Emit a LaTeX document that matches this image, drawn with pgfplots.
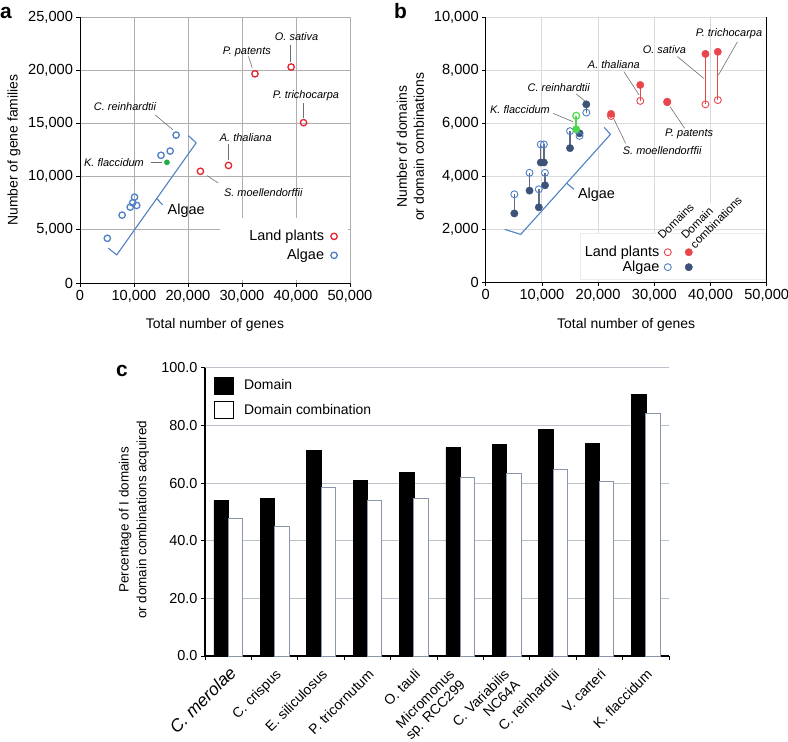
\documentclass[border=0pt]{standalone}
\usepackage{fontspec}
\setmainfont{Liberation Sans}
\usepackage{pgfplots}
\pgfplotsset{compat=1.18}

\definecolor{landred}{HTML}{E3232B}
\definecolor{algblue}{HTML}{4F80C5}
\definecolor{kfgreen}{HTML}{1DAE48}
\definecolor{landredb}{HTML}{E9464C}
\definecolor{algdark}{HTML}{3D5278}
\definecolor{algline}{HTML}{5F6C85}
\definecolor{kfgreenb}{HTML}{4CD94C}
\definecolor{gridgray}{HTML}{AEAEAE}
\definecolor{gridlight}{HTML}{DADADA}
\definecolor{gridc}{HTML}{BCC0C8}
\definecolor{leadgray}{HTML}{6E6E6E}
\definecolor{barline}{HTML}{8A96AC}

\pgfplotsset{
  panel/.style={
    scale only axis, anchor=south west, clip=false,
    axis x line*=bottom, axis y line*=left,
    axis line style={-, black, line width=1bp},
    tick align=outside, major tick length=3.5bp,
    tick style={black, line width=0.8bp},
    scaled ticks=false,
    /pgf/number format/assume math mode=true,
    /pgf/number format/1000 sep={,},
    tick label style={font=\fontsize{14.7}{18}\selectfont},
    label style={font=\fontsize{14}{17}\selectfont},
  },
  % one circle, centred in a cell 8.8bp wide
  legone/.style={legend image code/.code={%
    \path[draw=none, fill=none] (0bp,-4bp) (8.8bp,4bp);
    \draw[##1] plot coordinates {(4.4bp,0bp)};}},
}
\tikzset{
  spl/.style={font=\fontsize{11}{13}\selectfont\itshape, inner sep=0pt},
  lead/.style={leadgray, line width=0.6bp},
  brk/.style={algblue, line width=1.1bp},
  plet/.style={anchor=base west, font=\fontsize{21}{24}\selectfont\bfseries, inner sep=0pt},
  catl/.style={rotate=45, anchor=north east, align=right, inner sep=0pt,
    font=\fontsize{14}{15}\selectfont},
}

\begin{document}
\begin{tikzpicture}
\useasboundingbox (0,0) rectangle (788bp,-742bp);
\node[plet] at (0bp,-18bp) {a};
\node[plet] at (394bp,-18.3bp) {b};
\node[plet] at (116bp,-376.7bp) {c};

% ---------------- panel a
\begin{axis}[panel, at={(80bp,-283bp)}, width=270bp, height=266bp,
  xmin=0, xmax=50000, ymin=0, ymax=25000,
  xtick={0,10000,...,50000}, ytick={0,5000,...,25000},
  grid=major, major grid style={gridgray, line width=0.9bp},
  xlabel={Total number of genes}, ylabel={Number of gene families},
  xlabel style={at={(axis description cs:0.5,-0.158)}, anchor=center},
  ylabel style={at={(axis description cs:-0.244,0.5)}, anchor=center},
  legend style={at={(axis cs:47900,5010)}, anchor=north east, draw=none, fill=none,
    font=\fontsize{14.5}{17}\selectfont, inner sep=0pt, row sep=6bp, column sep=5.1bp,
    nodes={inner sep=0.5bp}},
  legend cell align=right, legend plot pos=right,
]
\fill[white] (axis cs:26000,250) rectangle (axis cs:49700,6100);
\draw[brk] (axis cs:5250,3270) -- (axis cs:6800,2640) -- (axis cs:21500,13160) -- (axis cs:20100,13850);
\draw[brk] (axis cs:14200,7935) -- (axis cs:15300,7350);
\node[anchor=west, inner sep=0pt, font=\fontsize{14.5}{17}\selectfont] at (axis cs:16200,6780) {Algae};

\draw[lead] (axis cs:31200,21300) -- (axis cs:31900,20200);
\draw[lead] (axis cs:38900,22400) -- (axis cs:38900,20800);
\draw[lead] (axis cs:41400,16900) -- (axis cs:41400,15500);
\draw[lead] (axis cs:13900,15800) -- (axis cs:17200,14400);
\draw[lead] (axis cs:13100,11340) -- (axis cs:15100,11340);
\draw[lead] (axis cs:27500,13100) -- (axis cs:27500,11600);
\draw[lead] (axis cs:23500,10100) -- (axis cs:25600,9400);
\node[spl] at (axis cs:30900,21770) {P. patents};
\node[spl] at (axis cs:40100,23180) {O. sativa};
\node[spl] at (axis cs:41850,17560) {P. trichocarpa};
\node[spl] at (axis cs:8330,16600) {C. reinhardtii};
\node[spl] at (axis cs:6300,11340) {K. flaccidum};
\node[spl] at (axis cs:30700,13660) {A. thaliana};
\node[spl] at (axis cs:33950,8480) {S. moellendorffii};

% land plants
\addplot[only marks, mark=o, landred, mark size=3.2bp, line width=1.3bp, forget plot] coordinates {
  (32400,19660) (39100,20300) (41400,15070) (27500,11050) (22300,10500)};
% algae
\addplot[only marks, mark=o, algblue, mark size=3.2bp, line width=1.3bp, forget plot] coordinates {
  (17800,13900) (16700,12400) (15000,12000) (10100,8070) (9750,7540)
  (10500,7290) (9300,7130) (7800,6380) (5060,4200)};
% K. flaccidum
\addplot[only marks, mark=*, kfgreen, mark size=2.6bp, forget plot] coordinates {(16100,11340)};

\addlegendimage{only marks, mark=o, landred, mark size=3.2bp, line width=1.3bp, legone}
\addlegendentry{Land plants}
\addlegendimage{only marks, mark=o, algblue, mark size=3.2bp, line width=1.3bp, legone}
\addlegendentry{Algae}
\end{axis}

% ---------------- panel b
\begin{axis}[panel, at={(485.7bp,-282.7bp)}, width=281bp, height=265.4bp,
  xmin=0, xmax=50000, ymin=0, ymax=10000,
  xtick={0,10000,...,50000}, ytick={0,2000,...,10000},
  grid=major, major grid style={gridlight, line width=1bp},
  xlabel={Total number of genes}, ylabel={Number of domains\\or domain combinations},
  xlabel style={at={(axis description cs:0.5,-0.158)}, anchor=center},
  ylabel style={align=center, at={(axis description cs:-0.268,0.512)}, anchor=center},
  legend plot pos=right, legend cell align=right,
  legend style={at={(axis cs:36990,1400)}, anchor=north east, draw=none, fill=none,
    font=\fontsize{14.5}{17}\selectfont, inner sep=0pt, row sep=2bp, column sep=3.4bp,
    nodes={inner sep=0.5bp}},
]
\draw[black, line width=1bp] (axis cs:50000,0) -- (axis cs:50000,10000);
\filldraw[fill=white, draw=gridlight!50] (axis cs:16800,120) rectangle (axis cs:49800,1860);
\draw[brk] (axis cs:3380,2010) -- (axis cs:6230,1820) -- (axis cs:22200,5590) -- (axis cs:21100,5850);
\draw[brk] (axis cs:14400,3750) -- (axis cs:15700,3520);
\node[anchor=west, inner sep=0pt, font=\fontsize{14.5}{17}\selectfont] at (axis cs:16400,3330) {Algae};

\draw[lead] (axis cs:44800,9080) -- (axis cs:41400,7820);
\draw[lead] (axis cs:34100,8520) -- (axis cs:38800,7700);
\draw[lead] (axis cs:24600,7950) -- (axis cs:27300,7070);
\draw[lead] (axis cs:16100,7110) -- (axis cs:17800,6820);
\draw[lead] (axis cs:12000,6380) -- (axis cs:15500,6070);
\draw[lead] (axis cs:32800,6630) -- (axis cs:35400,5820);
\draw[lead] (axis cs:22800,6170) -- (axis cs:24900,5250);
\node[spl] at (axis cs:43300,9390) {P. trichocarpa};
\node[spl] at (axis cs:31800,8790) {O. sativa};
\node[spl] at (axis cs:22800,8230) {A. thaliana};
\node[spl] at (axis cs:13000,7350) {C. reinhardtii};
\node[spl] at (axis cs:6100,6530) {K. flaccidum};
\node[spl] at (axis cs:36200,5590) {P. patents};
\node[spl] at (axis cs:31400,4970) {S. moellendorffii};

% connecting lines
\addplot[landredb, line width=1.1bp, unbounded coords=jump, forget plot] coordinates {
  (22300,6280) (22300,6360) (nan,nan)
  (27500,6850) (27500,7450) (nan,nan)
  (39100,6720) (39100,8620) (nan,nan)
  (41300,6880) (41300,8700)};
\addplot[algline, line width=1.4bp, unbounded coords=jump, forget plot] coordinates {
  (5100,3330) (5100,2610) (nan,nan)
  (7800,4140) (7800,3470) (nan,nan)
  (9450,3520) (9450,2840) (nan,nan)
  (9800,5210) (9800,4530) (nan,nan)
  (10350,5210) (10350,4530) (nan,nan)
  (10550,4140) (10550,3670) (nan,nan)
  (15000,5710) (15000,5070) (nan,nan)
  (16700,5530) (16700,5630) (nan,nan)
  (17900,6410) (17900,6720)};
\addplot[kfgreenb, line width=1.4bp, forget plot] coordinates {(16100,6290) (16100,5780)};

% domain combinations (filled)
\addplot[only marks, mark=*, algdark, mark size=3.7bp, forget plot] coordinates {
  (5100,2610) (7800,3470) (9450,2840) (9800,4530) (10350,4530) (10550,3670)
  (15000,5070) (16700,5630) (17900,6720)};
\addplot[only marks, mark=*, landredb, mark size=3.7bp, forget plot] coordinates {
  (22300,6360) (27500,7450) (32300,6820) (39100,8620) (41300,8700)};
% domains (open)
\addplot[only marks, mark=o, algblue, mark size=3.5bp, line width=0.9bp, forget plot] coordinates {
  (5100,3330) (7800,4140) (9450,3520) (9800,5210) (10350,5210) (10550,4140)
  (15000,5710) (16700,5530) (17900,6410)};
\addplot[only marks, mark=o, landredb, mark size=3.5bp, line width=0.9bp, forget plot] coordinates {
  (22300,6280) (27500,6850) (32300,6800) (39100,6720) (41300,6880)};
% K. flaccidum
\addplot[only marks, mark=*, kfgreenb, mark size=3.7bp, forget plot] coordinates {(16100,5780)};
\addplot[only marks, mark=o, kfgreenb, mark size=3.5bp, line width=1.2bp, forget plot] coordinates {(16100,6290)};

% legend: each row shows the open (domains) and the filled (domain combinations) symbol
\addlegendimage{legend image code/.code={%
  \path[draw=none, fill=none] (0bp,-4bp) (30bp,4bp);
  \draw[only marks, mark=o, landredb, mark size=3.5bp, line width=0.9bp] plot coordinates {(4.4bp,0bp)};
  \draw[only marks, mark=*, landredb, mark size=3.7bp] plot coordinates {(25.4bp,0bp)};}}
\addlegendentry{Land plants}
\addlegendimage{legend image code/.code={%
  \path[draw=none, fill=none] (0bp,-4bp) (30bp,4bp);
  \draw[only marks, mark=o, algblue, mark size=3.5bp, line width=0.9bp] plot coordinates {(4.4bp,0bp)};
  \draw[only marks, mark=*, algdark, mark size=3.7bp] plot coordinates {(25.4bp,0bp)};}}
\addlegendentry{Algae}
\end{axis}
\node[rotate=45, anchor=north west, inner sep=0.5bp, fill=white, font=\fontsize{11.5}{13}\selectfont]
  at (655.8bp,-234.1bp) {Domains};
\node[rotate=45, anchor=north west, inner sep=0.5bp, fill=white, align=left, font=\fontsize{11.5}{13}\selectfont]
  at (679bp,-234bp) {Domain\\combinations};

% ---------------- panel c
\begin{axis}[scale only axis, anchor=south west, at={(205bp,-656bp)}, width=464bp, height=288.3bp,
  xmin=-0.5, xmax=9.5, ymin=0, ymax=100, clip=false,
  axis x line*=bottom, axis y line*=left, axis line style={-, black, line width=1.1bp},
  tick align=outside, major tick length=4bp, tick style={black, line width=0.9bp},
  ytick={0,20,...,100}, ymajorgrids, major grid style={gridc, line width=1bp},
  yticklabel style={font=\fontsize{14.5}{17}\selectfont, /pgf/number format/.cd, fixed, fixed zerofill, precision=1, assume math mode=true},
  xtick={-0.5,0.5,...,9.5}, xticklabels={},
  ylabel={Percentage of I domains\\or domain combinations acquired},
  ylabel style={align=center, font=\fontsize{13.5}{18}\selectfont, at={(axis description cs:-0.153,0.472)}, anchor=center},
  legend style={at={(axis cs:-0.5,100)}, anchor=north west, xshift=9bp, yshift=-9bp,
    draw=none, fill=none, inner sep=0pt, row sep=7bp, column sep=9.5bp,
    font=\fontsize{14}{17}\selectfont, nodes={inner sep=0.5bp}},
  legend cell align=left,
]
\addplot[ybar, bar width=0.31, bar shift=-0.155, fill=black, draw=black, forget plot] coordinates {
  (0,53.9) (1,54.6) (2,71.4) (3,61.0) (4,63.6) (5,72.4) (6,73.3) (7,78.5) (8,73.8) (9,90.7)};
\addplot[ybar, bar width=0.31, bar shift=0.155, fill=white, draw=barline, line width=0.8bp, forget plot] coordinates {
  (0,47.6) (1,45.1) (2,58.6) (3,53.9) (4,54.6) (5,61.9) (6,63.3) (7,64.6) (8,60.7) (9,84.2)};
\addlegendimage{legend image code/.code={\fill[black] (0bp,-8.3bp) rectangle (19bp,8.3bp);}}
\addlegendentry{Domain}
\addlegendimage{legend image code/.code={\draw[black, line width=0.9bp] (0bp,-8.5bp) rectangle (19bp,8.5bp);}}
\addlegendentry{Domain combination}

% category labels
\node[catl, font=\fontsize{17.5}{20}\selectfont\itshape] at ([yshift=-9bp]axis cs:0,0) {C. merolae};
\node[catl] at ([yshift=-12bp]axis cs:1,0) {C. crispus};
\node[catl] at ([yshift=-12bp]axis cs:2,0) {E. siliculosus};
\node[catl] at ([yshift=-12bp]axis cs:3,0) {P. tricornutum};
\node[catl] at ([yshift=-12bp]axis cs:4,0) {O. tauli};
\node[catl] at ([xshift=-12bp,yshift=-12bp]axis cs:5,0) {Micromonus\\sp. RCC299};
\node[catl] at ([xshift=-3.6bp,yshift=-12bp]axis cs:6,0) {C. Variabilis\\NC64A};
\node[catl] at ([yshift=-12bp]axis cs:7,0) {C. reinhardtii};
\node[catl] at ([yshift=-12bp]axis cs:8,0) {V. carteri};
\node[catl] at ([yshift=-12bp]axis cs:9,0) {K. flaccidum};
\end{axis}
\end{tikzpicture}
\end{document}
